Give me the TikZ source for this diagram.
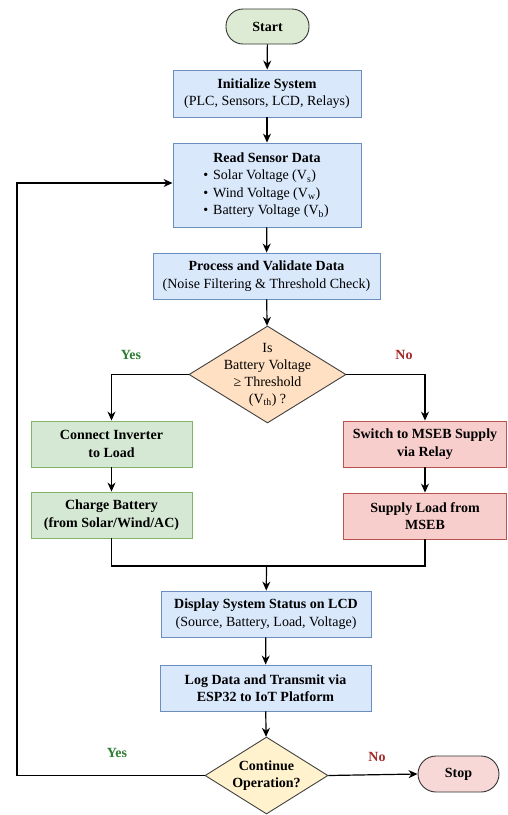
\documentclass[tikz,border=0pt]{standalone}
\usepackage{fontspec}
\setmainfont{Liberation Serif}
\usetikzlibrary{shapes.geometric,arrows.meta,calc}
\definecolor{bluefill}{HTML}{DAE8FC}
\definecolor{blueline}{HTML}{6C8EBF}
\definecolor{greenfill}{HTML}{D5E8D4}
\definecolor{greenline}{HTML}{82B366}
\definecolor{redfill}{HTML}{F8CECC}
\definecolor{redline}{HTML}{B85450}
\definecolor{orangefill}{HTML}{FFE0C2}
\definecolor{yellowfill}{HTML}{FFF2CC}
\definecolor{startfill}{HTML}{DDEBD4}
\definecolor{stopfill}{HTML}{F8D7D7}
\definecolor{yesgreen}{HTML}{2E7D32}
\definecolor{nored}{HTML}{A52A2A}
\tikzset{
  txt/.style={font=\fontsize{14}{17.5}\selectfont, align=center, inner sep=0pt},
  procbox/.style={txt, draw=blueline, fill=bluefill, line width=0.9pt},
  greenbox/.style={txt, draw=greenline, fill=greenfill, line width=0.9pt},
  redbox/.style={txt, draw=redline, fill=redfill, line width=0.9pt},
  term/.style={txt, draw=black!80, line width=0.9pt, rounded corners=17pt},
  decision/.style={diamond, draw=black!75, line width=0.9pt, inner sep=0pt},
  dtext/.style={font=\fontsize{14}{17}\selectfont, align=center, inner sep=0pt},
  arr/.style={-{Stealth[length=9pt,width=8pt]}, line width=1.2pt},
  conn/.style={line width=1.2pt},
  yeslbl/.style={font=\fontsize{14}{16}\selectfont\bfseries, text=yesgreen},
  nolbl/.style={font=\fontsize{14}{16}\selectfont\bfseries, text=nored},
}
\newcommand{\bul}{\textbullet\hspace{5pt}}
\begin{document}
\begin{tikzpicture}[x=1pt,y=-1pt]
\useasboundingbox (0,0) rectangle (507,815);
\fill[white] (0,0) rectangle (507,815);

\node[term, fill=startfill, minimum width=83pt, minimum height=35pt] (start) at (267.5,26.5) {\textbf{Start}};
\node[procbox, minimum width=188pt, minimum height=47pt] (init) at (267,93.5) {\textbf{Initialize System}\\(PLC, Sensors, LCD, Relays)};
\node[procbox, minimum width=188pt, minimum height=84pt] (read) at (267,185) {};
\node[txt] (readt) at (267,158) {\textbf{Read Sensor Data}};
\node[txt, align=left] (readb) at (266,194) {\bul Solar Voltage (V\textsubscript{s})\\\bul Wind Voltage (V\textsubscript{w})\\\bul Battery Voltage (V\textsubscript{b})};
\node[procbox, minimum width=227pt, minimum height=46pt] (proc) at (266.5,276) {\textbf{Process and Validate Data}\\(Noise Filtering \& Threshold Check)};
\node[decision, fill=orangefill, minimum width=157pt, minimum height=97pt] (dec1) at (267.5,374.5) {};
\node[dtext] (dec1t) at (267.5,374.5) {Is\\Battery Voltage\\≥ Threshold\\(V\textsubscript{th}) ?};
\node[greenbox, minimum width=161pt, minimum height=46pt] (inv) at (111.5,444) {\textbf{Connect Inverter}\\\textbf{to Load}};
\node[redbox, minimum width=163pt, minimum height=46pt] (sw) at (425,444) {\textbf{Switch to MSEB Supply}\\\textbf{via Relay}};
\node[greenbox, minimum width=161pt, minimum height=46pt] (chg) at (111.5,515) {\textbf{Charge Battery}\\\textbf{(from Solar/Wind/AC)}};
\node[redbox, minimum width=163pt, minimum height=46pt] (sup) at (425,516) {\textbf{Supply Load from}\\\textbf{MSEB}};
\node[procbox, minimum width=210pt, minimum height=46pt] (disp) at (266,614) {\textbf{Display System Status on LCD}\\(Source, Battery, Load, Voltage)};
\node[procbox, minimum width=211pt, minimum height=46pt] (log) at (265.5,688) {\textbf{Log Data and Transmit via}\\\textbf{ESP32 to IoT Platform}};
\node[decision, fill=yellowfill, minimum width=123pt, minimum height=77pt] (dec2) at (266.5,775.5) {};
\node[dtext] (dec2t) at (266.5,775.5) {\textbf{Continue}\\\textbf{Operation?}};
\node[term, fill=stopfill, minimum width=81pt, minimum height=36pt, rounded corners=18pt] (stop) at (458.5,774) {\textbf{Stop}};

\coordinate (m) at (266.5,566);
\coordinate (fb) at (17,775.5);

\draw[arr] (start) -- (init);
\draw[arr] (init) -- (read);
\draw[arr] (read) -- (proc);
\draw[arr] (proc) -- (dec1);
\draw[arr] (dec1.west) -| (inv.north);
\draw[arr] (dec1.east) -| (sw.north);
\draw[arr] (inv) -- (chg);
\draw[arr] (sw) -- (sup);
\draw[conn] (chg.south) |- (m) -| (sup.south);
\draw[arr] (m) -- (disp);
\draw[arr] (disp) -- (log);
\draw[arr] (log) -- (dec2);
\draw[arr] (dec2.east) -- (stop.west);
\draw[arr] (dec2.west) -- (fb) |- ($(read.west)+(0,-2)$);

\node[yeslbl] (y1) at (131,355) {Yes};
\node[nolbl] (n1) at (404,355) {No};
\node[yeslbl] (y2) at (117,753) {Yes};
\node[nolbl] (n2) at (377,757) {No};
\end{tikzpicture}
\end{document}
